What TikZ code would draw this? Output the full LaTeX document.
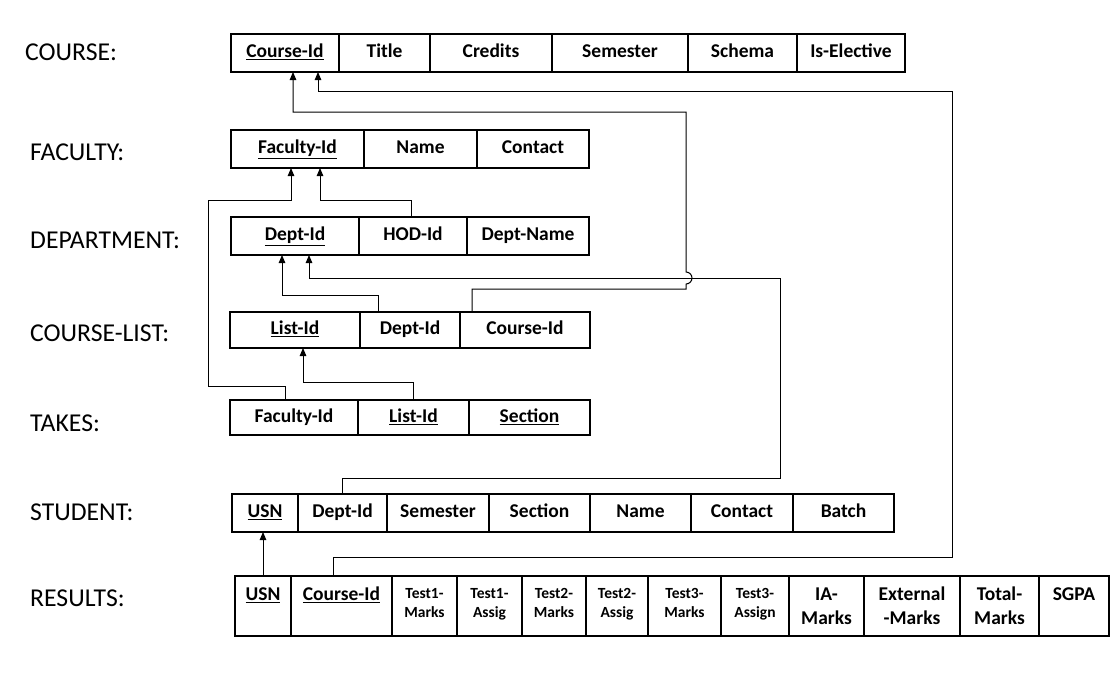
\documentclass[tikz,border=0pt]{standalone}
\usepackage{fontspec}
\setmainfont{Carlito}
\usetikzlibrary{positioning,arrows.meta}

\tikzset{
  rattr/.style={draw, line width=1.3pt, outer sep=0pt, inner sep=0pt, align=center,
    minimum height=60pt, font=\bfseries\fontsize{19.5}{24}\selectfont},
  attr/.style={rattr, minimum height=38pt, text height=14pt, text depth=4.5pt},
  smallattr/.style={font=\bfseries\fontsize{15.5}{19}\selectfont},
  tname/.style={anchor=west, inner sep=0pt, font=\fontsize{25.7}{30}\selectfont},
  fk/.style={line width=1pt, -{Triangle[length=8pt,width=6.5pt]}},
}

\begin{document}
\begin{tikzpicture}[x=1pt, y=-1pt]
    \useasboundingbox (0,0) rectangle (1113,673);

    % relation names
    \node[tname] (lcourse) at (25,52) {COURSE:};
    \node[tname] (lfaculty) at (30,152) {FACULTY:};
    \node[tname] (ldept) at (30,240) {DEPARTMENT:};
    \node[tname] (lclist) at (30,333) {COURSE-LIST:};
    \node[tname] (ltakes) at (30,423) {TAKES:};
    \node[tname] (lstudent) at (30,512) {STUDENT:};
    \node[tname] (lresults) at (30,598) {RESULTS:};

    % COURSE
    \node[attr, minimum width=108pt, anchor=north west] (cid) at (231,34) {\underline{Course-Id}};
    \node[attr, minimum width=91pt, right=0pt of cid] (ctitle) {Title};
    \node[attr, minimum width=122pt, right=0pt of ctitle] (ccred) {Credits};
    \node[attr, minimum width=136pt, right=0pt of ccred] (csem) {Semester};
    \node[attr, minimum width=109pt, right=0pt of csem] (cschema) {Schema};
    \node[attr, minimum width=108pt, right=0pt of cschema] (celect) {Is-Elective};

    % FACULTY
    \node[attr, minimum width=133pt, anchor=north west] (fid) at (231,130) {\underline{Faculty-Id}};
    \node[attr, minimum width=113pt, right=0pt of fid] (fname) {Name};
    \node[attr, minimum width=112pt, right=0pt of fname] (fcontact) {Contact};

    % DEPARTMENT
    \node[attr, minimum width=128pt, anchor=north west] (did) at (231,217) {\underline{Dept-Id}};
    \node[attr, minimum width=108pt, right=0pt of did] (dhod) {HOD-Id};
    \node[attr, minimum width=122pt, right=0pt of dhod] (dname) {Dept-Name};

    % COURSE-LIST
    \node[attr, minimum width=130pt, minimum height=36pt, anchor=north west] (clid) at (230,312) {\underline{List-Id}};
    \node[attr, minimum width=100pt, minimum height=36pt, right=0pt of clid] (cldid) {Dept-Id};
    \node[attr, minimum width=130pt, minimum height=36pt, right=0pt of cldid] (clcid) {Course-Id};

    % TAKES
    \node[attr, minimum width=128pt, minimum height=35pt, anchor=north west] (tfid) at (230,400) {Faculty-Id};
    \node[attr, minimum width=111pt, minimum height=35pt, right=0pt of tfid] (tlid) {\underline{List-Id}};
    \node[attr, minimum width=121pt, minimum height=35pt, right=0pt of tlid] (tsec) {\underline{Section}};

    % STUDENT
    \node[attr, minimum width=66pt, anchor=north west] (susn) at (232,494) {\underline{USN}};
    \node[attr, minimum width=89pt, right=0pt of susn] (sdid) {Dept-Id};
    \node[attr, minimum width=102pt, right=0pt of sdid] (ssem) {Semester};
    \node[attr, minimum width=101pt, right=0pt of ssem] (ssec) {Section};
    \node[attr, minimum width=101pt, right=0pt of ssec] (sname) {Name};
    \node[attr, minimum width=102pt, right=0pt of sname] (scontact) {Contact};
    \node[attr, minimum width=101pt, right=0pt of scontact] (sbatch) {Batch};

    % RESULTS
    \node[rattr, minimum width=56pt, anchor=north west] (rusn) at (235,576) {\underline{USN}\\\mbox{}};
    \node[rattr, minimum width=101pt, right=0pt of rusn] (rcid) {\underline{Course-Id}\\\mbox{}};
    \node[rattr, smallattr, minimum width=65pt, right=0pt of rcid] (rt1m) {Test1-\\Marks\strut};
    \node[rattr, smallattr, minimum width=65pt, right=0pt of rt1m] (rt1a) {Test1-\\Assig\strut};
    \node[rattr, smallattr, minimum width=64pt, right=0pt of rt1a] (rt2m) {Test2-\\Marks\strut};
    \node[rattr, smallattr, minimum width=62pt, right=0pt of rt2m] (rt2a) {Test2-\\Assig\strut};
    \node[rattr, smallattr, minimum width=73pt, right=0pt of rt2a] (rt3m) {Test3-\\Marks\strut};
    \node[rattr, smallattr, minimum width=68pt, right=0pt of rt3m] (rt3a) {Test3-\\Assign\strut};
    \node[rattr, minimum width=75pt, right=0pt of rt3a] (ria) {IA-\\Marks};
    \node[rattr, minimum width=96pt, right=0pt of ria] (rext) {External\\-Marks};
    \node[rattr, minimum width=79pt, right=0pt of rext] (rtot) {Total-\\Marks};
    \node[rattr, minimum width=70pt, right=0pt of rtot] (rsgpa) {SGPA\\\mbox{}};

    % foreign keys
    \draw[fk] ([xshift=-53pt]clcid.north) |- (686,289) -- (686,284)
        arc[start angle=-90, end angle=90, radius=6pt] -- (686,112) -| ([xshift=8pt]cid.south);
    \draw[fk] ([xshift=-8.5pt]rcid.north) |- (952,557) -- (952,91) -| ([xshift=33pt]cid.south);
    \draw[fk] ([xshift=-2pt]dhod.north) -- ++(0,-17) -| ([xshift=22.5pt]fid.south);
    \draw[fk] ([xshift=-9pt]tfid.north) -- ++(0,-14) -| (208,200) -| ([xshift=-6.5pt]fid.south);
    \draw[fk] ([xshift=-32pt]cldid.north) -- ++(0,-17) -| ([xshift=-13pt]did.south);
    \draw[fk] (sdid.north) -- ++(0,-16) -| (780,278) -| ([xshift=14pt]did.south);
    \draw[fk] (tlid.north) -- ++(0,-18) -| ([xshift=8pt]clid.south);
    \draw[fk] (rusn.north) -- (rusn.north |- susn.south);
\end{tikzpicture}
\end{document}
